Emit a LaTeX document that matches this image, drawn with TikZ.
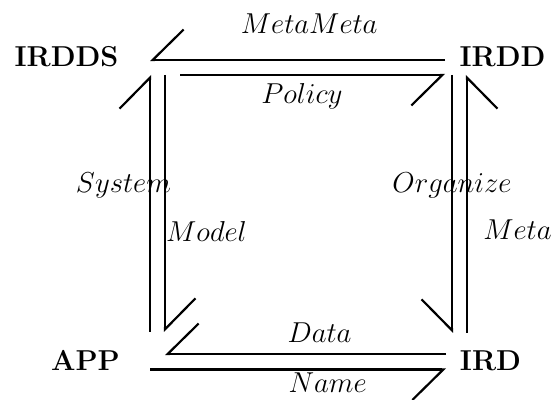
\documentclass[tikz,border=0pt]{standalone}
\usetikzlibrary{arrows.meta}

\tikzset{
  barbL/.style={-{Straight Barb[harpoon,length=15.5pt,width=30.5pt]}},
  barbR/.style={-{Straight Barb[harpoon,swap,length=15.5pt,width=30.5pt]}},
}

\begin{document}
\begin{tikzpicture}[x=.5pt,y=-.5pt,line width=1.1pt]
      \useasboundingbox (0,0) rectangle (552,400);

      \begin{scope}[every node/.style={font=\fontsize{14.4}{17}\selectfont\bfseries, inner sep=0pt}]
        \node (irdds) at (66.5,57)   {IRDDS};
        \node (irdd)  at (502.5,57)  {IRDD};
        \node (app)   at (85.5,360.5) {APP};
        \node (ird)   at (490.5,360.5) {IRD};
      \end{scope}

      \begin{scope}[every node/.style={font=\fontsize{14.4}{17}\selectfont, inner sep=0pt}]

        \begin{scope}[every edge/.style={draw}]
          % top pair
          \path ([shift={(-57.5,3)}]irdd.center)   edge[barbR] node[pos=.46, yshift=18pt]     {$MetaMeta$} ([shift={(83.5,3)}]irdds.center);
          \path ([shift={(113.5,18)}]irdds.center) edge[barbR] node[pos=.46, yshift=-10.5pt]  {$Policy$}   ([shift={(-57.5,18)}]irdd.center);
          % left pair
          \path ([shift={(64.5,-28.5)}]app.center) edge[barbL] node[pos=.57, xshift=-13.25pt] {$System$}   ([shift={(83.5,18)}]irdds.center);
          \path ([shift={(98.5,18)}]irdds.center)  edge[barbL] node[pos=.61, xshift=20.75pt]  {$Model$}    ([shift={(79.5,-28.5)}]app.center);
          % bottom pair
          \path ([shift={(-44.5,-6.5)}]ird.center) edge[barbR] node[pos=.45, yshift=10.75pt]  {$Data$}     ([shift={(79.5,-6.5)}]app.center);
          \path ([shift={(64.5,9)}]app.center)     edge[barbR] node[pos=.6, yshift=-6.75pt]   {$Name$}     ([shift={(-44.5,9)}]ird.center);
          % right pair
          \path ([shift={(-50.5,18)}]irdd.center)  edge[barbR] node[pos=.43]                  {$Organize$} ([shift={(-38.5,-27.5)}]ird.center);
          \path ([shift={(-23.5,-27.5)}]ird.center) edge[barbR] node[pos=.4, xshift=25.25pt]  {$Meta$}     ([shift={(-35.5,18)}]irdd.center);
        \end{scope}
      \end{scope}

    \end{tikzpicture}
\end{document}
